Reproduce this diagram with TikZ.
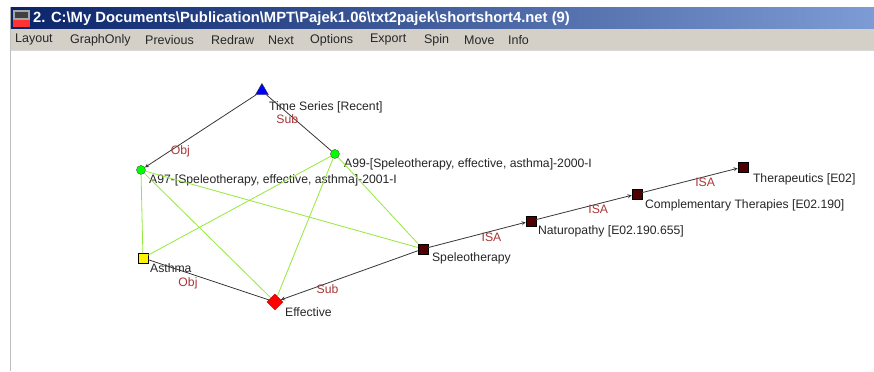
\documentclass[tikz,border=0pt]{standalone}
\usepackage{fontspec}
\setmainfont{Liberation Sans}
\usepackage{tikz}
\usetikzlibrary{shapes.geometric,calc}

\definecolor{titlenavy}{RGB}{10,36,106}
\definecolor{titlesky}{RGB}{125,155,212}
\definecolor{menugray}{RGB}{212,208,200}
\definecolor{relgray}{RGB}{55,55,55}
\definecolor{linkgreen}{RGB}{150,232,60}
\definecolor{relred}{RGB}{170,55,55}
\definecolor{termbrown}{RGB}{80,0,0}

\begin{document}
\begin{tikzpicture}[x=1pt,y=-1pt,
 term/.style={
      rectangle,
      draw=black,
      fill=termbrown,
      minimum size=10pt,
      inner sep=0pt
   },
   paper/.style={
      circle,
      draw=black!70,
      fill=green,
      minimum size=9pt,
      inner sep=0pt
   },
   lbl/.style={
      anchor=west,
      inner sep=0pt,
      text=black!85,
      font=\fontsize{12.2}{14}\selectfont
   },
   elbl/.style={
      anchor=north,
      inner sep=1pt,
      text=relred,
      font=\fontsize{12.2}{14}\selectfont
   },
   rel/.style={draw=relgray, line width=0.8pt},
   link/.style={draw=linkgreen, line width=0.8pt},
   menu/.style={anchor=west, inner sep=0pt, text=black!85, font=\fontsize{12.5}{14}\selectfont}
 ]
 %okno
 \fill[white] (0,0) rectangle (874,371);
 \draw[black!25] (10.5,7.5) -- (874,7.5);
 \draw[black!25] (10.5,7.5) -- (10.5,371);
 \shade[left color=titlenavy, right color=titlesky] (11,8) rectangle (874,29);
 \fill[menugray] (11,29) rectangle (874,50);
 \draw[black!15] (11,50.5) -- (874,50.5);

 %ikona
 \fill[black!35] (13,10) rectangle (30,27);
 \fill[black!75] (15,12) rectangle (28,18);
 \fill[red!80] (13,20) rectangle (30,27);

 %titulek
 \node[anchor=west, inner sep=0pt, text=white, font=\bfseries\fontsize{14.8}{16}\selectfont] (title) at (33,19)
  {2. C:\textbackslash My Documents\textbackslash Publication\textbackslash MPT\textbackslash Pajek1.06\textbackslash txt2pajek\textbackslash shortshort4.net (9)};

 %menu
 \foreach \mx/\mtext [count=\mi] in {15/Layout, 70/GraphOnly, 145/Previous, 211/Redraw, 268/Next, 310/Options, 370/Export, 424/Spin, 464/Move, 508/Info}
  \node[menu] (menu\mi) at (\mx,40) {\mtext};

 %uzly
 \node[regular polygon, regular polygon sides=3, draw=black!80, fill=blue, minimum size=15pt, inner sep=0pt] (ts) at (262,91) {};
 \node[paper] (a97) at (141,170) {};
 \node[paper] (a99) at (335,154) {};
 \node[rectangle, draw=black, fill=yellow, minimum size=10pt, inner sep=0pt] (asthma) at (143,258) {};
 \node[diamond, draw=red!70!black, fill=red, minimum size=16pt, inner sep=0pt] (eff) at (275,302) {};
 \node[term] (spel) at (423,249) {};
 \node[term] (nat) at (531,221) {};
 \node[term] (comp) at (637,194) {};
 \node[term] (ther) at (743,167) {};

 %popisky
 \node[lbl] (tsl) at ($(ts)+(7,16)$) {Time Series [Recent]};
 \node[lbl] (a97l) at ($(a97)+(8,10)$) {A97-[Speleotherapy, effective, asthma]-2001-I};
 \node[lbl] (a99l) at ($(a99)+(9,10)$) {A99-[Speleotherapy, effective, asthma]-2000-I};
 \node[lbl] (asthmal) at ($(asthma)+(7,10)$) {Asthma};
 \node[lbl] (effl) at ($(eff)+(10,10)$) {Effective};
 \node[lbl] (spell) at ($(spel)+(9,9)$) {Speleotherapy};
 \node[lbl] (natl) at ($(nat)+(7,10)$) {Naturopathy [E02.190.655]};
 \node[lbl] (compl) at ($(comp)+(8,11)$) {Complementary Therapies [E02.190]};
 \node[lbl] (therl) at ($(ther)+(10,12)$) {Therapeutics [E02]};

 %zelene vazby
 \draw[link] (a97) -- (asthma);
 \draw[link] (a97) -- (eff);
 \draw[link] (a97) -- (spel);
 \draw[link] (a99) -- (asthma);
 \draw[link] (a99) -- (eff);
 \draw[link] (a99) -- (spel);

 %relace
 \draw[rel,-stealth] (ts) -- node[elbl, pos=.68] {Obj} (a97);
 \draw[rel] (ts) -- node[elbl, pos=.32] {Sub} (a99);
 \draw[rel] (asthma) -- node[elbl, pos=.33, yshift=-3pt] {Obj} (eff);
 \draw[rel,-stealth] (spel) -- node[elbl, pos=.66] {Sub} (eff);

 %sipky ISA
 \draw[rel,-stealth] (spel) -- node[elbl, pos=.65] {ISA} (nat);
 \draw[rel,-stealth] (nat) -- node[elbl, pos=.65] {ISA} (comp);
 \draw[rel,-stealth] (comp) -- node[elbl, pos=.66] {ISA} (ther);
\end{tikzpicture}
\end{document}
